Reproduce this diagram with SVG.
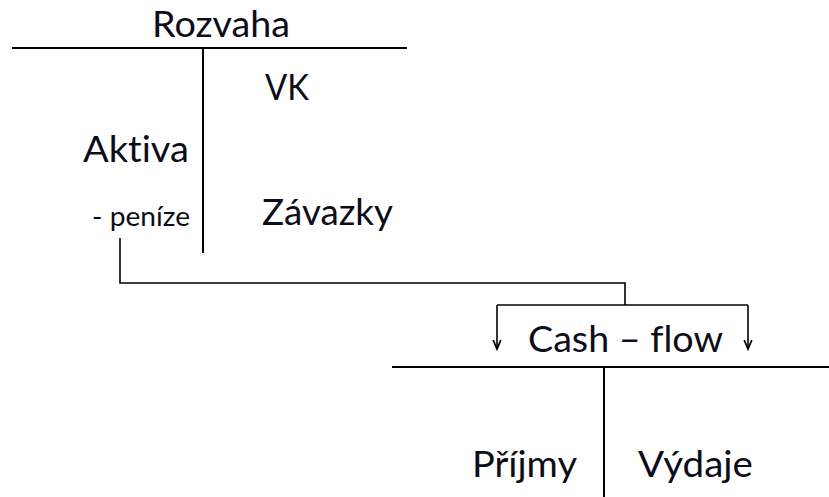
<svg xmlns="http://www.w3.org/2000/svg" width="829" height="497" viewBox="0 0 829 497">
<defs>
<marker id="arr" markerWidth="12" markerHeight="12" refX="10" refY="5" orient="auto" markerUnits="userSpaceOnUse" viewBox="0 0 12 10">
<polyline points="1,1.2 10,5 1,8.8" fill="none" stroke="#000" stroke-width="1.8"/>
</marker>
</defs>
<style>
.t{font-family:Lato,"Open Sans","Liberation Sans",sans-serif;fill:#0d0d1a;font-size:36px;font-variant-ligatures:none;font-feature-settings:"liga" 0}
.s{font-size:27px}
.ln{stroke:#000;stroke-width:2;fill:none}
.cn{stroke:#000;stroke-width:1.6;fill:none}
</style>
<rect width="829" height="497" fill="#fff"/>
<g id="rozvaha">
<line class="ln" x1="12" y1="48" x2="407" y2="48"/>
<line class="ln" x1="203" y1="48" x2="203" y2="253"/>
<text class="t" x="152" y="37" textLength="138" lengthAdjust="spacingAndGlyphs">Rozvaha</text>
</g>
<g id="vk"><text class="t" x="265" y="100" textLength="44" lengthAdjust="spacingAndGlyphs">VK</text></g>
<g id="aktiva"><text class="t" x="83" y="162" textLength="106" lengthAdjust="spacingAndGlyphs">Aktiva</text></g>
<g id="penize"><text class="t s" x="92" y="226" textLength="98" lengthAdjust="spacingAndGlyphs">- peníze</text></g>
<g id="zavazky"><text class="t" x="262" y="225" textLength="131" lengthAdjust="spacingAndGlyphs">Závazky</text></g>
<g id="cashflow">
<line class="ln" x1="392" y1="367" x2="829" y2="367"/>
<line class="ln" x1="604" y1="367" x2="604" y2="497"/>
<text class="t" x="528" y="352" textLength="195" lengthAdjust="spacingAndGlyphs">Cash – flow</text>
</g>
<g id="prijmy"><text class="t" x="472" y="477" textLength="105" lengthAdjust="spacingAndGlyphs">Příjmy</text></g>
<g id="vydaje"><text class="t" x="638" y="477" textLength="115" lengthAdjust="spacingAndGlyphs">Výdaje</text></g>
<g id="connectors">
<polyline class="cn" points="120,238 120,283 625,283 625,305"/>
<polyline class="cn" points="497,305 748,305"/>
<line class="cn" x1="497" y1="305" x2="497" y2="349" marker-end="url(#arr)"/>
<line class="cn" x1="748" y1="305" x2="748" y2="349" marker-end="url(#arr)"/>
</g>
</svg>
